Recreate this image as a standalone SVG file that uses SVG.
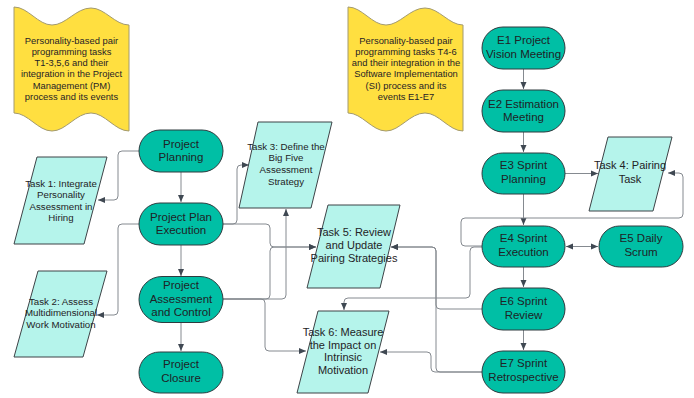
<svg xmlns="http://www.w3.org/2000/svg" width="694" height="398" viewBox="0 0 694 398">
<style>
.term{fill:#00BFA5;stroke:#2e3b3f;stroke-width:1}
.task{fill:#B5F4EB;stroke:#3d4347;stroke-width:1;stroke-linejoin:round}
.tape{fill:#FFDF40;stroke:#A39A6E;stroke-width:1}
.t{font-family:"Liberation Sans",Arial,sans-serif;fill:#1f2326;text-anchor:middle}
.tt{font-size:11.5px}
.ts{font-size:9.7px}
.tm{font-size:11px}
.td{font-size:9.4px}
.c path{fill:none;stroke:#858a90;stroke-width:1}
</style>
<defs>
<marker id="ah" viewBox="0 0 8 8" refX="8" refY="4" markerWidth="8" markerHeight="7" markerUnits="userSpaceOnUse" orient="auto-start-reverse">
<path d="M0,0.6 L8,4 L0,7.4 Z" fill="#3f4852"/>
</marker>
</defs>

<g id="doc1">
<path class="tape" d="M14,7 C28,7 38,25 52,25 C66,25 76,8 91,8 C105,8 115,25 129,25 L129,131 C115,131 105,113 91,113 C76,113 66,131 52,131 C38,131 28,113 14,113 Z"/>
<text class="t td"><tspan x="71.5" y="43.5">Personality-based pair</tspan><tspan x="71.5" y="54.8">programming tasks</tspan><tspan x="71.5" y="66.1">T1-3,5,6 and their</tspan><tspan x="71.5" y="77.4">integration in the Project</tspan><tspan x="71.5" y="88.7">Management (PM)</tspan><tspan x="71.5" y="100">process and its events</tspan></text>
</g>
<g id="doc2">
<path class="tape" d="M348,7 C362,7 372,25 386,25 C400,25 410,8 425,8 C439,8 449,25 463,25 L463,131 C449,131 439,113 425,113 C410,113 400,131 386,131 C372,131 362,113 348,113 Z"/>
<text class="t td"><tspan x="406" y="43.5">Personality-based pair</tspan><tspan x="406" y="54.8">programming tasks T4-6</tspan><tspan x="406" y="66.1">and their integration in the</tspan><tspan x="406" y="77.4">Software Implementation</tspan><tspan x="406" y="88.7">(SI) process and its</tspan><tspan x="406" y="100">events E1-E7</tspan></text>
</g>

<g class="c" id="connectors">
<path d="M181,172 V202" marker-end="url(#ah)"/>
<path d="M181,245 V276" marker-end="url(#ah)"/>
<path d="M181,323 V351" marker-end="url(#ah)"/>
<path d="M139,151 H122 Q118,151 118,155 V196 Q118,200 114,200 H98" marker-end="url(#ah)"/>
<path d="M139,224 H122 Q118,224 118,228 V311 Q118,315 114,315 H97" marker-end="url(#ah)"/>
<path d="M223,224 H233 Q237,224 237,220 V169 Q237,165 241,165 H249" marker-end="url(#ah)"/>
<path d="M223,224 H266 Q270,224 270,228 V243 Q270,247 274,247 H316" marker-end="url(#ah)"/>
<path d="M223,299 H266 Q270,299 270,295 V251 Q270,247 274,247 H316" marker-end="url(#ah)"/>
<path d="M223,299 H282 Q286,299 286,295 V209" marker-end="url(#ah)"/>
<path d="M223,299 H261 Q265,299 265,303 V347 Q265,351 269,351 H306" marker-end="url(#ah)"/>
<path d="M523.5,69 V89" marker-end="url(#ah)"/>
<path d="M523.5,132 V152" marker-end="url(#ah)"/>
<path d="M523.5,194 V225" marker-end="url(#ah)"/>
<path d="M565,173.5 H598" marker-end="url(#ah)"/>
<path d="M482,246 H465 Q461,246 461,242 V222 Q461,218 465,218 H679 Q683,218 683,214 V177 Q683,173 679,173 H668" marker-end="url(#ah)"/>
<path d="M566,246.5 H598" marker-start="url(#ah)" marker-end="url(#ah)"/>
<path d="M523.5,267 V287" marker-end="url(#ah)"/>
<path d="M523.5,330 V350" marker-end="url(#ah)"/>
<path d="M482,247 H474 Q470,247 470,251 V294 Q470,298 466,298 H348 Q344,298 344,302 V310" marker-end="url(#ah)"/>
<path d="M482,309 H440 Q436,309 436,305 V251 Q436,247 432,247 H391" marker-end="url(#ah)"/>
<path d="M482,372 H440 Q436,372 436,368 V251 Q436,247 432,247 H391" marker-end="url(#ah)"/>
<path d="M482,372 H435 Q431,372 431,368 V356 Q431,352 427,352 H380" marker-end="url(#ah)"/>
</g>

<g id="pp"><rect class="term" x="139" y="130" width="84" height="42" rx="21"/><text class="t tt"><tspan x="181" y="147.5">Project</tspan><tspan x="181" y="160.5">Planning</tspan></text></g>
<g id="ppe"><rect class="term" x="139" y="203" width="84" height="42" rx="21"/><text class="t tt"><tspan x="181" y="220.5">Project Plan</tspan><tspan x="181" y="233.5">Execution</tspan></text></g>
<g id="pac"><rect class="term" x="139" y="276.5" width="84" height="46" rx="23"/><text class="t tt"><tspan x="181" y="289">Project</tspan><tspan x="181" y="302.5">Assessment</tspan><tspan x="181" y="316">and Control</tspan></text></g>
<g id="pc"><rect class="term" x="139" y="352" width="84" height="41" rx="20.5"/><text class="t tt"><tspan x="181" y="368">Project</tspan><tspan x="181" y="381.5">Closure</tspan></text></g>

<g id="e1"><rect class="term" x="482" y="27" width="83" height="42" rx="21"/><text class="t tt"><tspan x="523.5" y="44">E1 Project</tspan><tspan x="523.5" y="57.5">Vision Meeting</tspan></text></g>
<g id="e2"><rect class="term" x="482" y="90" width="83" height="42" rx="21"/><text class="t tt"><tspan x="523.5" y="107.5">E2 Estimation</tspan><tspan x="523.5" y="121">Meeting</tspan></text></g>
<g id="e3"><rect class="term" x="482" y="153" width="83" height="41" rx="20.5"/><text class="t tt"><tspan x="523.5" y="169">E3 Sprint</tspan><tspan x="523.5" y="182.5">Planning</tspan></text></g>
<g id="e4"><rect class="term" x="482" y="226" width="83" height="41" rx="20.5"/><text class="t tt"><tspan x="523.5" y="242">E4 Sprint</tspan><tspan x="523.5" y="255.5">Execution</tspan></text></g>
<g id="e5"><rect class="term" x="599" y="226" width="84" height="41" rx="20.5"/><text class="t tt"><tspan x="641" y="242">E5 Daily</tspan><tspan x="641" y="255.5">Scrum</tspan></text></g>
<g id="e6"><rect class="term" x="482" y="288" width="83" height="42" rx="21"/><text class="t tt"><tspan x="523.5" y="305">E6 Sprint</tspan><tspan x="523.5" y="318.5">Review</tspan></text></g>
<g id="e7"><rect class="term" x="482" y="351" width="83" height="42" rx="21"/><text class="t tt"><tspan x="523.5" y="367">E7 Sprint</tspan><tspan x="523.5" y="380.5">Retrospective</tspan></text></g>

<g id="task1"><path class="task" d="M37,157 L107,157 L84,244 L14,244 Z"/><text class="t ts"><tspan x="61" y="186.5">Task 1: Integrate</tspan><tspan x="61" y="198">Personality</tspan><tspan x="61" y="209.5">Assessment in</tspan><tspan x="61" y="221">Hiring</tspan></text></g>
<g id="task2"><path class="task" d="M38,271 L107,271 L83,357 L14,357 Z"/><text class="t ts"><tspan x="61" y="304.5">Task 2: Assess</tspan><tspan x="61" y="316">Multidimensional</tspan><tspan x="61" y="327.5">Work Motivation</tspan></text></g>
<g id="task3"><path class="task" d="M258,122 L332,122 L311,208 L239,208 Z"/><text class="t ts"><tspan x="286" y="149.5">Task 3: Define the</tspan><tspan x="286" y="161.2">Big Five</tspan><tspan x="286" y="172.9">Assessment</tspan><tspan x="286" y="184.6">Strategy</tspan></text></g>
<g id="task4"><path class="task" d="M608,137 L672,137 L653,211 L589,211 Z"/><text class="t tm"><tspan x="630" y="169">Task 4: Pairing</tspan><tspan x="630" y="182.5">Task</tspan></text></g>
<g id="task5"><path class="task" d="M328,205 L400,205 L380,288 L307,288 Z"/><text class="t tm"><tspan x="354" y="236">Task 5: Review</tspan><tspan x="354" y="249">and Update</tspan><tspan x="354" y="262">Pairing Strategies</tspan></text></g>
<g id="task6"><path class="task" d="M318,311 L389,311 L368,393 L297,393 Z"/><text class="t tm"><tspan x="343" y="336">Task 6: Measure</tspan><tspan x="343" y="348.5">the Impact on</tspan><tspan x="343" y="361">Intrinsic</tspan><tspan x="343" y="374">Motivation</tspan></text></g>
</svg>
